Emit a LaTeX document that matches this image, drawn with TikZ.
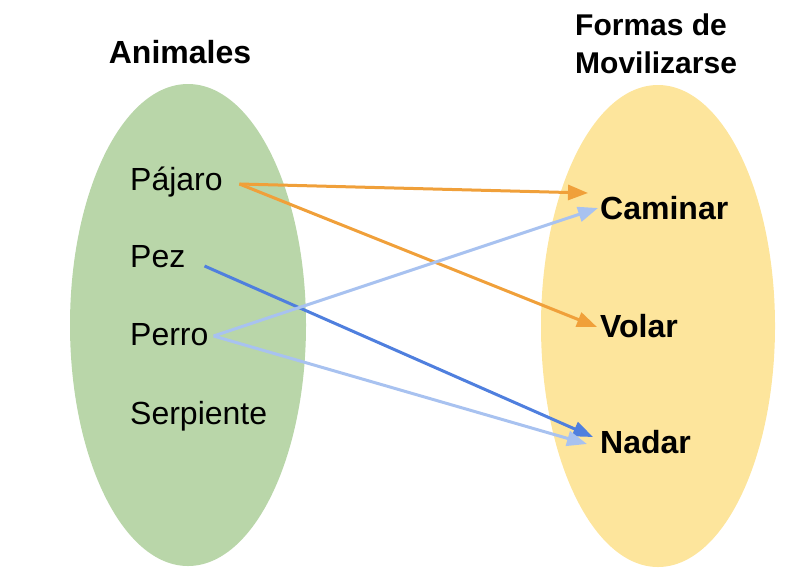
\documentclass[tikz,border=0pt]{standalone}
\usepackage{fontspec}
\setmainfont{Liberation Sans}
\usetikzlibrary{arrows.meta}
\definecolor{greenset}{HTML}{B9D6A9}
\definecolor{yellowset}{HTML}{FDE59C}
\definecolor{orangearr}{HTML}{F0A03A}
\definecolor{bluearr}{HTML}{4F7FDE}
\definecolor{lightbluearr}{HTML}{A8C2F0}
\tikzset{
  item/.style={anchor=base west, inner sep=0pt, font=\fontsize{32}{38}\selectfont},
  target/.style={item, font=\fontsize{32}{38}\selectfont\bfseries},
  title/.style={inner sep=0pt, font=\fontsize{30}{38}\selectfont\bfseries},
  conn/.style={line width=3pt, -{Triangle[length=20pt,width=15pt]}},
}
\begin{document}
\begin{tikzpicture}[x=1pt,y=-1pt]
\useasboundingbox (0,0) rectangle (786,582);
\fill[greenset] (188,325) ellipse [x radius=118, y radius=241];
\fill[yellowset] (658,326) ellipse [x radius=117, y radius=241];
\node[title, anchor=base] (tanim) at (180,63) {\fontsize{32}{38}\selectfont Animales};
\node[title, anchor=base west, align=left] (tform) at (575,73) {Formas de\\Movilizarse};
\node[item] (pajaro) at (130,190) {Pájaro};
\node[item] (pez) at (130,267) {Pez};
\node[item] (perro) at (130,345) {Perro};
\node[item] (serp) at (130,424) {Serpiente};
\node[target] (caminar) at (600,219) {Caminar};
\node[target] (volar) at (600,337) {Volar};
\node[target] (nadar) at (600,453) {Nadar};
\draw[conn, orangearr] ([shift={(16.5,-6)}]pajaro.base east) -- ([shift={(-12,-26)}]caminar.base west);
\draw[conn, orangearr] ([shift={(16.5,-6)}]pajaro.base east) -- ([shift={(-3,-10)}]volar.base west);
\draw[conn, bluearr] ([shift={(19,-1)}]pez.base east) -- ([shift={(-7,-16)}]nadar.base west);
\draw[conn, lightbluearr] ([shift={(5,-9)}]perro.base east) -- ([shift={(-2,-11)}]caminar.base west);
\draw[conn, lightbluearr] ([shift={(5,-9)}]perro.base east) -- ([shift={(-13,-9)}]nadar.base west);
\end{tikzpicture}
\end{document}
